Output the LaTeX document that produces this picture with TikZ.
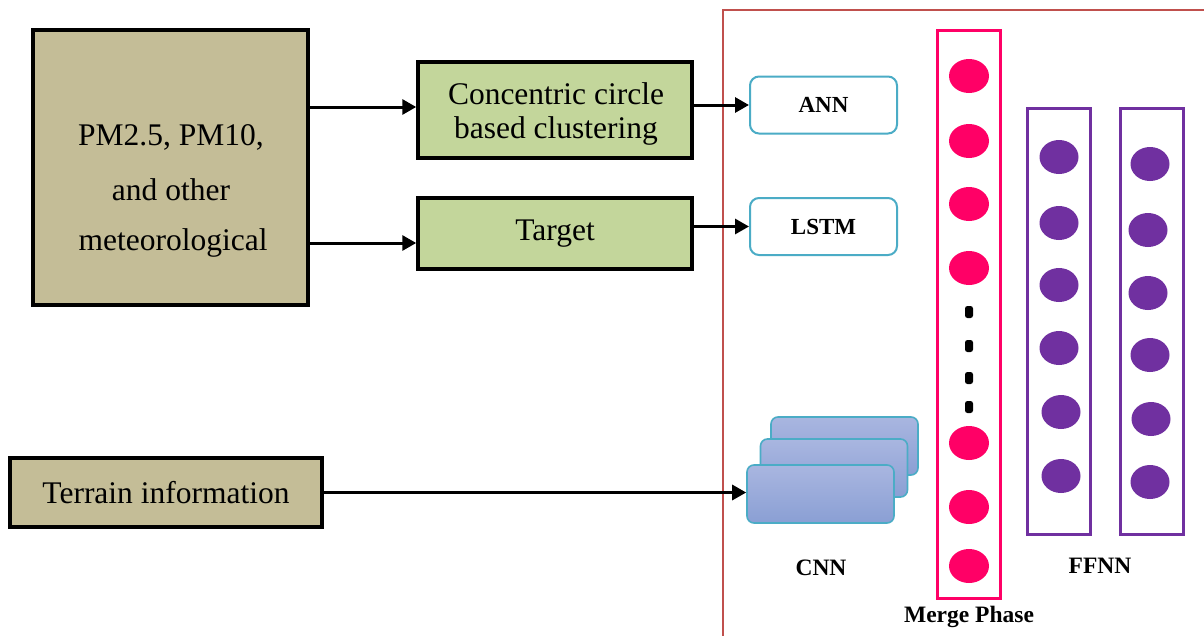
\documentclass[tikz,border=0pt]{standalone}
\usepackage{fontspec}
\setmainfont{Liberation Serif}
\usetikzlibrary{arrows.meta,shapes.geometric}
\definecolor{tanfill}{HTML}{C4BD97}
\definecolor{greenfill}{HTML}{C3D69B}
\definecolor{frame}{HTML}{C0504D}
\definecolor{aqua}{HTML}{4BACC6}
\definecolor{pinkc}{HTML}{FF0066}
\definecolor{purp}{HTML}{7030A0}
\definecolor{cnntop}{HTML}{A9B6E0}
\definecolor{cnnbot}{HTML}{8A9FD4}
\tikzset{
  x=1pt, y=-1pt,
  bigtext/.style={font=\fontsize{31.5}{36}\selectfont},
  tanbox/.style={draw=black, line width=3.5pt, fill=tanfill, inner sep=0pt, bigtext, align=center},
  greenbox/.style={draw=black, line width=3.5pt, fill=greenfill, inner sep=0pt, bigtext, align=center},
  modelbox/.style={draw=aqua, line width=2pt, fill=white, rounded corners=9pt, inner sep=0pt,
     minimum width=147pt, minimum height=57pt, font=\fontsize{23}{26}\selectfont\bfseries},
  cnnbox/.style={draw=aqua, line width=1.6pt, top color=cnntop, bottom color=cnnbot, rounded corners=7pt,
     inner sep=0pt, minimum width=147pt, minimum height=58pt},
  arr/.style={draw=black, line width=3pt, -{Triangle[length=14pt,width=15pt]}},
  lab/.style={font=\fontsize{23.5}{26}\selectfont\bfseries, inner sep=0pt},
  pinkdot/.style={fill=pinkc},
  purpdot/.style={fill=purp},
  col/.style={line width=3pt, inner sep=0pt, fill=none},
}
\begin{document}
\begin{tikzpicture}
\useasboundingbox (0,0) rectangle (1204,635);
\clip (0,0) rectangle (1204,635);
\fill[white] (0,0) rectangle (1204,635);

% left boxes
\node[tanbox, minimum width=275pt, minimum height=275pt] (pm) at (170.5,167.5) {};
\node[bigtext, inner sep=0pt] (pmt1) at (171,137) {PM2.5, PM10,};
\node[bigtext, inner sep=0pt] (pmt2) at (171,190) {and other};
\node[bigtext, inner sep=0pt] (pmt3) at (173,243) {meteorological};

\node[greenbox, minimum width=274pt, minimum height=96pt] (conc) at (555,110) {};
\node[bigtext, inner sep=0pt] (conct1) at (556,94) {Concentric circle};
\node[bigtext, inner sep=0pt] (conct2) at (556,131) {based clustering};
\node[greenbox, minimum width=274pt, minimum height=71pt] (tgt) at (555,233.5) {Target};

\node[tanbox, minimum width=312pt, minimum height=69pt] (terr) at (166,492.5) {Terrain information};

% red frame
\draw[frame, line width=2pt] (1220,10) -- (723,10) -- (723,650);

% model boxes
\node[modelbox] (ann) at (823.5,105) {ANN};
\node[modelbox] (lstm) at (823.5,226.5) {LSTM};

% CNN stack
\node[cnnbox] (cnn3) at (844.5,446) {};
\node[cnnbox] (cnn2) at (834,468) {};
\node[cnnbox] (cnn1) at (820.5,494) {};
\node[lab] (cnnl) at (821,568) {CNN};

% merge phase column
\node[draw=pinkc, col, minimum width=63pt, minimum height=568pt] (merge) at (969,314) {};
\foreach \yy in {76,141,204,268,443,507,566}
  \fill[pinkdot] (969,\yy) ellipse [x radius=20pt, y radius=17pt];
\foreach \yy in {312,346,378,407}
  \fill[black, rounded corners=2.5pt] (965,\yy-6) rectangle (973,\yy+6);
\node[lab] (mergel) at (969,617) {Merge Phase};

% FFNN columns
\node[draw=purp, col, minimum width=63pt, minimum height=426pt] (ff1) at (1059,321) {};
\node[draw=purp, col, minimum width=63pt, minimum height=426pt] (ff2) at (1151.5,321) {};
\foreach \xx/\yy in {1059/157,1059/223,1059/285,1059/348,1061/412,1061/476}
  \fill[purpdot] (\xx,\yy) ellipse [x radius=19.5pt, y radius=17pt];
\foreach \xx/\yy in {1150/164,1148/230,1148/293,1150/355,1151/419,1150/482}
  \fill[purpdot] (\xx,\yy) ellipse [x radius=19.5pt, y radius=17pt];
\node[lab] (ffl) at (1100,566) {FFNN};

% arrows
\draw[arr] (pm.east |- 0,107) -- (conc.west |- 0,107);
\draw[arr] (pm.east |- 0,243) -- (tgt.west |- 0,243);
\draw[arr] (conc.east |- ann.west) -- (ann.west);
\draw[arr] (tgt.east |- lstm.west) -- (lstm.west);
\draw[arr] (terr.east) -- (cnn1.west |- terr.east);
\end{tikzpicture}
\end{document}
